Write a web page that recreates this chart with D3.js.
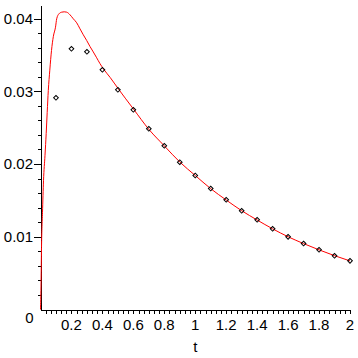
<!DOCTYPE html>
<html lang="en">
<head>
    <meta charset="UTF-8">
    <title>t plot</title>
    <style>
        body { margin: 0; padding: 0; background: #fff; }
        svg { display: block; background: #fff; }
        .lbl { font-family: 'Liberation Sans', Arial, sans-serif; font-size: 15px; fill: #000; }
        .axis path, .axis line { stroke: #000; stroke-width: 1px; shape-rendering: crispEdges; }
    </style>
</head>
<body>
<svg width="358" height="358"></svg>
<script src="https://d3js.org/d3.v7.min.js"></script>
<script>
    // measured points (diamonds)
    const dataT = [0.1, 0.2, 0.3, 0.4, 0.5, 0.6, 0.7, 0.8, 0.9, 1.0,
                   1.1, 1.2, 1.3, 1.4, 1.5, 1.6, 1.7, 1.8, 1.9, 2.0];
    const dataV = [0.0291, 0.03584, 0.03542, 0.03295, 0.0302, 0.02745, 0.02484, 0.0225, 0.02025, 0.01842,
                   0.01663, 0.01508, 0.01357, 0.01233, 0.01109, 0.00999, 0.00907, 0.00821, 0.00738, 0.00669];

    // fitted curve
    const curveT = [0, 0.0032, 0.0065, 0.0129, 0.0194, 0.0291, 0.0368, 0.0433, 0.0504, 0.0601,
                    0.0711, 0.0827, 0.0969, 0.1047, 0.1195, 0.137, 0.1533, 0.1693, 0.1906, 0.2119,
                    0.2339, 0.2552, 0.2765, 0.2984, 0.3198, 0.3411, 0.363, 0.3843, 0.4057, 0.45,
                    0.5026, 0.5995, 0.7028, 0.7997, 0.9012, 1.0, 1.1, 1.2, 1.3, 1.4,
                    1.5, 1.6, 1.7, 1.8, 1.9, 2.0];
    const curveV = [0, 0.0031, 0.0085, 0.0133, 0.0177, 0.0212, 0.0242, 0.0271, 0.0301, 0.0329,
                    0.0356, 0.0375, 0.0388, 0.03996, 0.04065, 0.04087, 0.04092, 0.04087, 0.04051, 0.03996,
                    0.03941, 0.03858, 0.03776, 0.03698, 0.03615, 0.0354, 0.0346, 0.0338, 0.0331, 0.0319,
                    0.03034, 0.02759, 0.0247, 0.0225, 0.02025, 0.01842, 0.01661, 0.01505, 0.01358, 0.0123,
                    0.01109, 0.01, 0.00906, 0.0082, 0.0074, 0.00668];

    const xTicks = [0.2, 0.4, 0.6, 0.8, 1, 1.2, 1.4, 1.6, 1.8, 2];
    const xTickLabels = ["0.2", "0.4", "0.6", "0.8", "1", "1.2", "1.4", "1.6", "1.8", "2"];
    const yTicks = [0.01, 0.02, 0.03, 0.04];
    const yTickLabels = ["0.01", "0.02", "0.03", "0.04"];

    const svg = d3.select("svg");

    const x = d3.scaleLinear().domain([0, 2]).range([40.5, 350]);
    const y = d3.scaleLinear().domain([0, 0.04]).range([309.5, 18.5]);
    const yTop = 0.0418;

    // x axis: line + minor ticks
    const xMinor = d3.range(1, 61).map(i => i / 30);
    svg.append("g")
        .attr("class", "axis")
        .attr("transform", `translate(0,${y(0)})`)
        .call(d3.axisBottom(x).tickValues(xMinor).tickSize(4).tickSizeOuter(0).tickFormat(""));

    svg.selectAll(".xlbl")
        .data(xTicks)
        .enter().append("text")
        .attr("class", "lbl")
        .attr("x", d => x(d))
        .attr("y", 330)
        .attr("text-anchor", "middle")
        .text((d, i) => xTickLabels[i]);

    // y axis: line + minor + major ticks
    const yMinor = d3.range(1, 21).map(i => i * 0.002);
    const yScaleFull = y.copy().domain([0, yTop]).range([y(0), y(yTop)]);
    svg.append("g")
        .attr("class", "axis")
        .attr("transform", `translate(${x(0)},0)`)
        .call(d3.axisLeft(yScaleFull).tickValues(yMinor).tickSize(3).tickSizeOuter(0).tickFormat(""));
    svg.append("g")
        .attr("class", "axis")
        .attr("transform", `translate(${x(0)},0)`)
        .call(d3.axisLeft(y).tickValues(yTicks).tickSize(7).tickSizeOuter(0).tickFormat(""))
        .select(".domain").remove();

    svg.selectAll(".ylbl")
        .data(yTicks)
        .enter().append("text")
        .attr("class", "lbl")
        .attr("x", 33)
        .attr("y", d => y(d))
        .attr("dy", "0.36em")
        .attr("text-anchor", "end")
        .text((d, i) => yTickLabels[i]);

    // origin label sits below the axis
    svg.append("text")
        .attr("class", "lbl")
        .attr("x", 33.5)
        .attr("y", y(0) + 8)
        .attr("dy", "0.36em")
        .attr("text-anchor", "end")
        .text("0");

    svg.append("text")
        .attr("class", "lbl")
        .attr("x", x(1))
        .attr("y", 352)
        .attr("text-anchor", "middle")
        .text("t");

    // curve
    const line = d3.line()
        .x((d, i) => x(curveT[i]))
        .y((d, i) => y(curveV[i]))
        .curve(d3.curveMonotoneX);

    svg.append("path")
        .datum(curveT)
        .attr("d", line)
        .attr("fill", "none")
        .attr("stroke", "#ff0000")
        .attr("stroke-width", 1);

    // diamonds
    const diamond = d3.symbol().type(d3.symbolSquare).size(11);
    svg.append("g")
        .selectAll("path")
        .data(dataT)
        .enter().append("path")
        .attr("d", diamond)
        .attr("transform", (d, i) => `translate(${x(d)},${y(dataV[i])}) rotate(45)`)
        .attr("fill", "none")
        .attr("stroke", "#000")
        .attr("stroke-width", 1);
</script>
</body>
</html>
